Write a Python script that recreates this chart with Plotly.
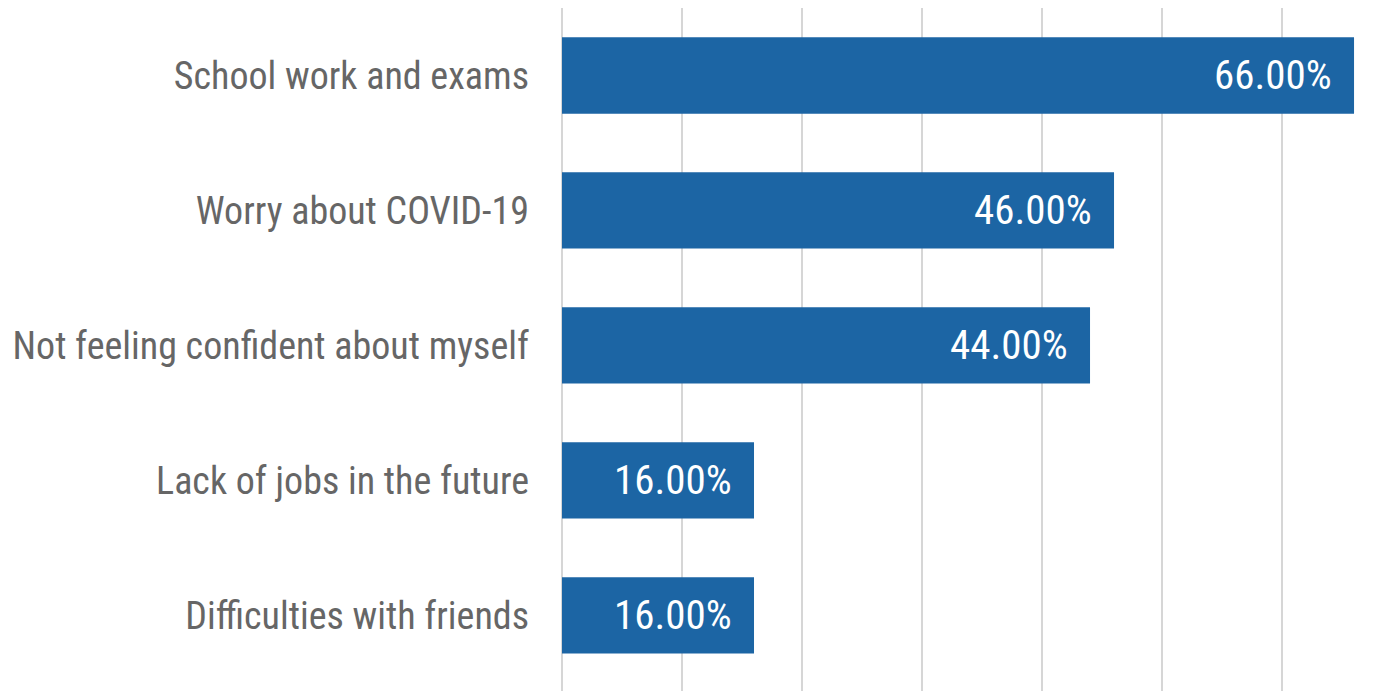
import plotly.graph_objects as go

categories = ["School work and exams", "Worry about COVID-19", "Not feeling confident about myself",
              "Lack of jobs in the future", "Difficulties with friends"]
values = [66.0, 46.0, 44.0, 16.0, 16.0]
labels = [f"{v:.2f}%" for v in values]

FONT = "Liberation Sans Narrow, Arial Narrow, Roboto Condensed, Liberation Sans, sans-serif"
BLUE = "#1C65A4"
GRID = "#D6D6D6"

fig = go.Figure()
fig.add_trace(go.Bar(
    x=values, y=categories, orientation="h",
    marker=dict(color=BLUE, line=dict(width=0)),
    hoverinfo="skip",
))
for c, v, t in zip(categories, values, labels):
    fig.add_annotation(x=v, y=c, text=t, xanchor="right", yanchor="middle",
                       xshift=-20, showarrow=False,
                       font=dict(family=FONT, size=41, color="white"))

fig.update_layout(
    width=1389, height=691,
    margin=dict(l=554, r=0, t=0, b=0, autoexpand=False),
    plot_bgcolor="white", paper_bgcolor="white",
    bargap=0.435,
    showlegend=False,
    font=dict(family=FONT, color="#666666"),
)
fig.update_xaxes(range=[0, 69.58], tick0=0, dtick=10, showticklabels=False,
                 showgrid=True, gridcolor=GRID, gridwidth=2, automargin=False,
                 zeroline=True, zerolinecolor=GRID, zerolinewidth=2, showline=False)
fig.update_yaxes(autorange=False, range=[4.619, -0.5], showgrid=False, zeroline=False,
                 automargin=False,
                 tickfont=dict(family=FONT, size=38, color="#666666"),
                 ticklabelstandoff=32, showline=False)

fig.write_html("out.html")
